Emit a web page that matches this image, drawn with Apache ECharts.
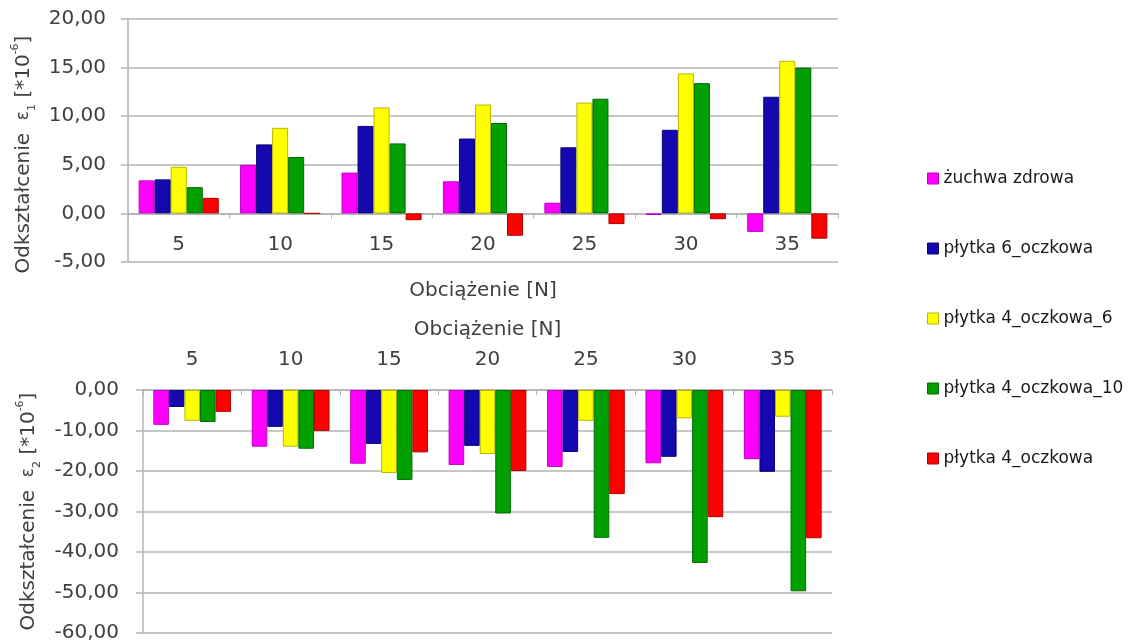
<!DOCTYPE html>
<html>
<head>
<meta charset="utf-8">
<script src="https://cdn.jsdelivr.net/npm/echarts@6/dist/echarts.min.js"></script>
<style>
html,body{margin:0;padding:0;background:#fff;}
#chart{width:1137px;height:643px;}
</style>
</head>
<body>
<div id="chart"></div>
<script>
const categories = ['5','10','15','20','25','30','35'];
const seriesNames = ['żuchwa zdrowa','płytka 6_oczkowa','płytka 4_oczkowa_6','płytka 4_oczkowa_10','płytka 4_oczkowa'];

// epsilon 1 (top chart)
const e1_zuchwa = [3.4, 5.0, 4.2, 3.3, 1.1, -0.15, -1.9];
const e1_p6     = [3.5, 7.1, 9.0, 7.7, 6.8, 8.6, 12.0];
const e1_p4_6   = [4.8, 8.8, 10.9, 11.2, 11.4, 14.4, 15.7];
const e1_p4_10  = [2.7, 5.8, 7.2, 9.3, 11.8, 13.4, 15.0];
const e1_p4     = [1.6, 0, -0.7, -2.3, -1.1, -0.6, -2.6];

// epsilon 2 (bottom chart)
const e2_zuchwa = [-8.6, -14.0, -18.2, -18.5, -19.0, -18.1, -17.1];
const e2_p6     = [-4.2, -9.1, -13.3, -13.8, -15.3, -16.5, -20.2];
const e2_p4_6   = [-7.6, -14.0, -20.5, -15.8, -7.6, -7.0, -6.6];
const e2_p4_10  = [-7.9, -14.5, -22.2, -30.5, -36.5, -42.7, -49.7];
const e2_p4     = [-5.4, -10.1, -15.4, -20.0, -25.7, -31.4, -36.6];

const yTop = {min: -5, max: 20, interval: 5};
const yBot = {min: -60, max: 0, interval: 10};

const colors = ['#FF00FF', '#1508B0', '#FFFF00', '#00A000', '#FF0000'];
const borders = ['#C000C0', '#0A0470', '#B8B800', '#006A00', '#B00000'];

const txt = '#404040';
const FONT = 'DejaVu Sans';
const fmt = v => v.toFixed(2).replace('.', ',');

// grid geometry
const topGrid = {left: 128, width: 710, top: 19, height: 243};
const botGrid = {left: 143, width: 689, top: 390, height: 243};
// distance of the zero line above the bottom edge of the top grid
const topZeroOffset = -topGrid.height * (0 - yTop.min) / (yTop.max - yTop.min);

function yName(idx) {
  return '{a|Odkształcenie  }{e|ε}{s|' + idx + '}{a| [*10}{p|-6}{a|]}';
}
const nameRich = {
  a: {fontFamily: FONT, fontSize: 20, color: txt, lineHeight: 28},
  e: {fontFamily: FONT, fontSize: 17, color: txt, lineHeight: 28},
  s: {fontFamily: FONT, fontSize: 11, color: txt, lineHeight: 28, verticalAlign: 'bottom'},
  p: {fontFamily: FONT, fontSize: 11, color: txt, lineHeight: 28, verticalAlign: 'top'}
};

const gridLine = {show: true, lineStyle: {color: '#B4B4B4', width: 1.5}};

function mkSeries(dataArr, axisIdx) {
  return dataArr.map((d, i) => ({
    name: seriesNames[i],
    type: 'bar',
    xAxisIndex: axisIdx,
    yAxisIndex: axisIdx,
    data: d,
    barGap: '0%',
    barCategoryGap: '21%',
    itemStyle: {color: colors[i], borderColor: borders[i], borderWidth: 1},
    emphasis: {disabled: true}
  }));
}

const option = {
  animation: false,
  backgroundColor: '#fff',
  color: colors,
  legend: {
    orient: 'vertical',
    left: 922,
    top: 165,
    itemWidth: 11,
    itemHeight: 11,
    itemGap: 53,
    icon: 'rect',
    textStyle: {fontFamily: FONT, fontSize: 17, color: '#1a1a1a'},
    data: seriesNames.map((n, i) => ({name: n, itemStyle: {color: colors[i], borderColor: borders[i], borderWidth: 1}}))
  },
  grid: [topGrid, botGrid],
  xAxis: [
    {
      type: 'category', gridIndex: 0, data: categories, position: 'bottom',
      offset: topZeroOffset,
      name: 'Obciążenie [N]', nameLocation: 'middle', nameGap: 67,
      nameTextStyle: {fontFamily: FONT, fontSize: 20, color: txt},
      axisLine: {show: true, onZero: false, lineStyle: {color: '#B4B4B4', width: 1.5}},
      axisTick: {show: true, length: 5, lineStyle: {color: '#B4B4B4'}},
      axisLabel: {fontFamily: FONT, fontSize: 20, color: txt, margin: 21}
    },
    {
      type: 'category', gridIndex: 1, data: categories, position: 'top',
      name: 'Obciążenie [N]', nameLocation: 'middle', nameGap: 50,
      nameTextStyle: {fontFamily: FONT, fontSize: 20, color: txt},
      axisLine: {show: true, onZero: false, lineStyle: {color: '#B4B4B4', width: 1.5}},
      axisTick: {show: true, length: 5, inside: true, lineStyle: {color: '#B4B4B4'}},
      axisLabel: {fontFamily: FONT, fontSize: 20, color: txt, margin: 20}
    }
  ],
  yAxis: [
    {
      type: 'value', gridIndex: 0, min: yTop.min, max: yTop.max, interval: yTop.interval,
      name: yName(1), nameLocation: 'middle', nameGap: 86, nameRotate: 90,
      nameTextStyle: {rich: nameRich, padding: [0, 28, 0, 0]},
      axisLine: {show: true, onZero: false, lineStyle: {color: '#B4B4B4', width: 1.5}},
      axisTick: {show: true, length: 7, lineStyle: {color: '#B4B4B4', width: 1.5}},
      splitLine: gridLine,
      axisLabel: {fontFamily: FONT, fontSize: 20, color: txt, margin: 22, formatter: fmt}
    },
    {
      type: 'value', gridIndex: 1, min: yBot.min, max: yBot.max, interval: yBot.interval,
      name: yName(2), nameLocation: 'middle', nameGap: 100, nameRotate: 90,
      nameTextStyle: {rich: nameRich},
      axisLine: {show: true, onZero: false, lineStyle: {color: '#B4B4B4', width: 1.5}},
      axisTick: {show: true, length: 7, lineStyle: {color: '#B4B4B4', width: 1.5}},
      splitLine: gridLine,
      axisLabel: {fontFamily: FONT, fontSize: 20, color: txt, margin: 24, formatter: fmt}
    }
  ],
  series: [
    ...mkSeries([e1_zuchwa, e1_p6, e1_p4_6, e1_p4_10, e1_p4], 0),
    ...mkSeries([e2_zuchwa, e2_p6, e2_p4_6, e2_p4_10, e2_p4], 1)
  ]
};

const chart = echarts.init(document.getElementById('chart'), null, {renderer: 'canvas'});
chart.setOption(option);
</script>
</body>
</html>
